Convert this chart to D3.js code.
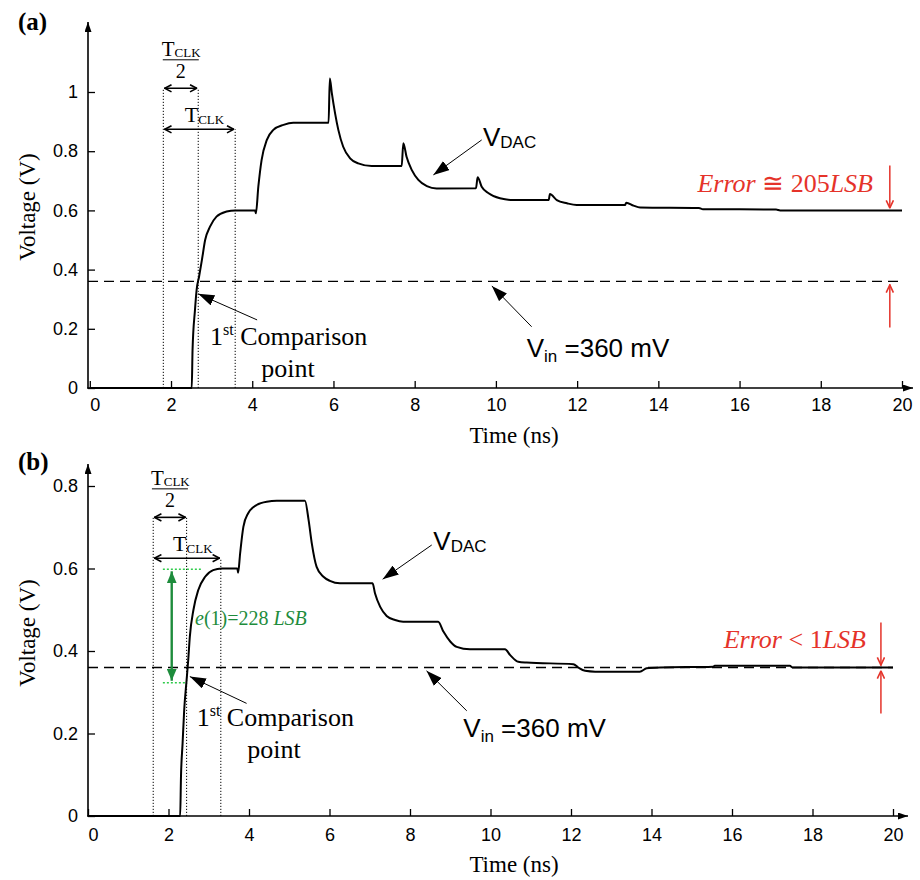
<!DOCTYPE html>
<html>
<head>
<meta charset="utf-8">
<script src="https://cdn.jsdelivr.net/npm/d3@7"></script>
<style>
  body { margin: 0; background: #fff; }
  svg { display: block; }
</style>
</head>
<body>
<div id="chart"></div>
<script>
/* CONSTANTS AND GLOBALS */
const width = 920,
  height = 880;

const SANS = "Liberation Sans, Arial, Helvetica, sans-serif",
  SERIF = "Liberation Serif, Times New Roman, serif";

const red = "#e5332a",
  green = "#1e8c3c",
  lightGreen = "#2fcc4a";

/* DATA */
const timeTicks = [0, 2, 4, 6, 8, 10, 12, 14, 16, 18, 20];
const voltTicksA = [0, 0.2, 0.4, 0.6, 0.8, 1];
const voltTicksB = [0, 0.2, 0.4, 0.6, 0.8];
const vIn = 0.36;

// (a) DAC output
const timeA = [0, 2.51, 2.53, 2.59, 2.63, 2.69, 2.76, 2.84, 2.96, 3.12, 3.37, 3.58, 4.07, 4.09, 4.15, 4.23,
  4.36, 4.52, 4.77, 5.01, 5.88, 5.91, 5.96, 6.04, 6.12, 6.24, 6.41, 6.61, 6.94, 7.68, 7.72, 7.8, 7.93, 8.09,
  8.3, 8.54, 9.51, 9.55, 9.65, 9.82, 10.1, 10.43, 11.3, 11.33, 11.5, 11.75, 11.99, 13.18, 13.21, 13.39,
  13.55, 15.0, 15.1, 16.9, 17.0, 20];
const voltA = [0, 0, 0.128, 0.264, 0.331, 0.376, 0.432, 0.5, 0.545, 0.579, 0.596, 0.6, 0.6, 0.59, 0.68, 0.77,
  0.838, 0.872, 0.889, 0.896, 0.896, 1.046, 0.996, 0.928, 0.872, 0.815, 0.776, 0.759, 0.75, 0.75, 0.827, 0.781, 0.736, 0.703,
  0.682, 0.674, 0.675, 0.712, 0.68, 0.658, 0.641, 0.635, 0.635, 0.655, 0.635, 0.624, 0.618, 0.618, 0.626, 0.616,
  0.61, 0.608, 0.604, 0.603, 0.6, 0.6];

// (b) DAC output
const timeB = [0, 2.29, 2.31, 2.35, 2.39, 2.45, 2.49, 2.53, 2.62, 2.74, 2.91, 3.11, 3.32, 3.71, 3.73, 3.78,
  3.86, 3.98, 4.19, 4.44, 4.69, 5.39, 5.48, 5.56, 5.68, 5.85, 6.01, 6.26, 7.07, 7.13, 7.26, 7.42, 7.63, 7.83,
  8.7, 8.83, 9.0, 9.16, 9.49, 10.36, 10.49, 10.69, 10.9, 12.06, 12.18, 12.35, 12.6, 13.71, 13.88, 14.21,
  15.53, 15.57, 17.44, 17.5, 20];
const voltB = [0, 0, 0.095, 0.176, 0.257, 0.33, 0.378, 0.435, 0.5, 0.548, 0.58, 0.596, 0.6, 0.6, 0.59, 0.637,
  0.701, 0.734, 0.754, 0.762, 0.764, 0.764, 0.718, 0.661, 0.604, 0.58, 0.57, 0.564, 0.564, 0.54, 0.507, 0.485, 0.475, 0.471,
  0.471, 0.447, 0.423, 0.41, 0.404, 0.404, 0.39, 0.374, 0.372, 0.368, 0.36, 0.352, 0.35, 0.35, 0.358, 0.36,
  0.362, 0.364, 0.364, 0.36, 0.36];

// clock edges (dotted guides) in ns
const clockA = [1.81, 2.67, 3.58];
const clockB = [1.62, 2.45, 3.30];
// first comparison error band in (b)
const errBand = [0.598, 0.323];

/* PANEL LAYOUT */
const panels = [
  { label: "(a)", time: timeA, volt: voltA, vTicks: voltTicksA, vTop: 1, clock: clockA,
    x0: 89.8, x20: 902, y0: 388, yTop: 92, axisX: 88, arrowTop: 22, arrowRight: 913,
    labelY: 30, xPad: 10, titleY: 443, vTitleY: 207,
    halfY: 1.0125, fullY: 0.874 },
  { label: "(b)", time: timeB, volt: voltB, vTicks: voltTicksB, vTop: 0.8, clock: clockB,
    x0: 88, x20: 893, y0: 816, yTop: 486, axisX: 88, arrowTop: 464, arrowRight: 908,
    labelY: 470, xPad: 12, titleY: 872, vTitleY: 633,
    halfY: 0.724, fullY: 0.625 }
];

let svg, defs;

/* MARKERS */
function makeMarker(id, d, fill, stroke, w, h) {
  defs.append("marker")
    .attr("id", id)
    .attr("viewBox", "0 0 10 10")
    .attr("refX", 10)
    .attr("refY", 5)
    .attr("markerWidth", w)
    .attr("markerHeight", h)
    .attr("markerUnits", "userSpaceOnUse")
    .attr("preserveAspectRatio", "none")
    .attr("orient", "auto-start-reverse")
    .append("path")
    .attr("d", d)
    .attr("fill", fill)
    .attr("stroke", stroke)
    .attr("stroke-width", stroke === "none" ? 0 : 1.6)
    .attr("vector-effect", "non-scaling-stroke");
}

function arrow(g, x1, y1, x2, y2, opts) {
  return g.append("line")
    .attr("x1", x1).attr("y1", y1).attr("x2", x2).attr("y2", y2)
    .attr("stroke", opts.color || "#000")
    .attr("stroke-width", opts.width || 1)
    .attr("marker-end", `url(#${opts.marker})`)
    .attr("marker-start", opts.both ? `url(#${opts.marker})` : null);
}

/* INIT */
svg = d3.select("#chart")
  .append("svg")
  .attr("width", width)
  .attr("height", height);

defs = svg.append("defs");
makeMarker("tri", "M0,0 L10,5 L0,10 Z", "#000", "none", 16, 11);
makeMarker("axTri", "M0,0 L10,5 L0,10 Z", "#000", "none", 10, 7);
makeMarker("chev", "M1,1 L9.5,5 L1,9", "none", "#000", 8, 9);
makeMarker("chevRed", "M1,1 L9.5,5 L1,9", "none", red, 9, 9);
makeMarker("triGreen", "M0,0 L10,5 L0,10 Z", green, "none", 12, 10);

panels.forEach((p, i) => drawPanel(p, i));

/* DRAW FUNCTION */
function drawPanel(p, i) {
  const g = svg.append("g").attr("class", "panel");

  // + SCALES
  const x = d3.scaleLinear().domain([0, 20]).range([p.x0, p.x20]);
  const y = d3.scaleLinear().domain([0, p.vTop]).range([p.y0, p.yTop]);

  // + AXES (ticks point inward)
  const xAxis = d3.axisBottom(x)
    .tickValues(timeTicks)
    .tickSizeInner(-7)
    .tickSizeOuter(0)
    .tickPadding(p.xPad)
    .tickFormat(d => d);

  const yAxis = d3.axisLeft(y)
    .tickValues(p.vTicks)
    .tickSizeInner(-7)
    .tickSizeOuter(0)
    .tickPadding(10)
    .tickFormat(d => d);

  g.append("g")
    .attr("class", "axis x-axis")
    .attr("transform", `translate(0,${p.y0})`)
    .call(xAxis)
    .attr("font-family", SANS)
    .attr("font-size", 18)
    .call(a => a.select(".domain").remove())
    .call(a => a.selectAll("line").attr("stroke-width", 1.3))
    .call(a => a.selectAll("text").attr("dx", d => (d === 0 ? 5 : 0)));

  g.append("g")
    .attr("class", "axis y-axis")
    .attr("transform", `translate(${p.axisX},0)`)
    .call(yAxis)
    .attr("font-family", SANS)
    .attr("font-size", 18)
    .call(a => a.select(".domain").remove())
    .call(a => a.selectAll("line").attr("stroke-width", 1.3));

  // axis lines with arrow heads
  arrow(g, p.axisX, p.y0 + 0.5, p.axisX, p.arrowTop, { marker: "axTri", width: 1.6 });
  arrow(g, p.axisX - 0.8, p.y0, p.arrowRight, p.y0, { marker: "axTri", width: 1.6 });

  // axis titles
  g.append("text")
    .attr("font-family", SERIF)
    .attr("x", 514)
    .attr("y", p.titleY)
    .attr("text-anchor", "middle")
    .attr("font-size", 23)
    .text("Time (ns)");

  g.append("text")
    .attr("font-family", SERIF)
    .attr("transform", `translate(35,${p.vTitleY}) rotate(-90)`)
    .attr("text-anchor", "middle")
    .attr("font-size", 23)
    .text("Voltage (V)");

  g.append("text")
    .attr("font-family", SERIF)
    .attr("x", 18)
    .attr("y", p.labelY)
    .attr("font-size", 25)
    .attr("font-weight", "bold")
    .text(p.label);

  // + DOTTED CLOCK GUIDES
  g.selectAll("line.clock")
    .data(p.clock)
    .join("line")
    .attr("class", "clock")
    .attr("x1", d => x(d)).attr("x2", d => x(d))
    .attr("y1", y(0))
    .attr("y2", (d, j) => (j < 2 ? y(p.halfY) : y(p.fullY)))
    .attr("stroke", "#000")
    .attr("stroke-width", 1)
    .attr("stroke-dasharray", "1.2,1.8");

  // Vin reference (dashed)
  g.append("line")
    .attr("x1", p.axisX).attr("x2", x(20))
    .attr("y1", y(vIn)).attr("y2", y(vIn))
    .attr("stroke", "#000")
    .attr("stroke-width", 1.3)
    .attr("stroke-dasharray", "10,6");

  // + LINE
  const rows = p.time.map((t, j) => ({ t, v: p.volt[j] }));
  const line = d3.line()
    .x(d => x(d.t))
    .y(d => y(d.v))
    .curve(d3.curveMonotoneX);

  g.append("path")
    .datum(rows)
    .attr("fill", "none")
    .attr("stroke", "#000")
    .attr("stroke-width", 2)
    .attr("stroke-linejoin", "round")
    .attr("d", line);

  // + CLOCK PERIOD ARROWS
  arrow(g, x(p.clock[0]) + 1, y(p.halfY), x(p.clock[1]) - 1, y(p.halfY), { marker: "chev", width: 1.6, both: true });
  arrow(g, x(p.clock[0]) + 1, y(p.fullY), x(p.clock[2]) - 1, y(p.fullY), { marker: "chev", width: 1.6, both: true });

  // T_CLK / 2 fraction
  const fracX = (x(p.clock[0]) + x(p.clock[1])) / 2;
  const fracTop = y(p.halfY) - 32;
  const frac = g.append("text").attr("font-family", SERIF).attr("x", fracX - 19).attr("y", fracTop);
  frac.append("tspan").attr("font-size", 21).text("T");
  frac.append("tspan").attr("font-size", 13).attr("dy", 1).text("CLK");
  g.append("line")
    .attr("x1", fracX - 18).attr("x2", fracX + 18)
    .attr("y1", fracTop + 3.5).attr("y2", fracTop + 3.5)
    .attr("stroke", "#000").attr("stroke-width", 1);
  g.append("text").attr("font-family", SERIF)
    .attr("x", fracX).attr("y", fracTop + 22)
    .attr("text-anchor", "middle")
    .attr("font-size", 20)
    .text("2");

  const tclk = g.append("text").attr("font-family", SERIF)
    .attr("x", x(p.clock[1]) - 13.5)
    .attr("y", y(p.fullY) - 7.5);
  tclk.append("tspan").attr("font-size", 22).text("T");
  tclk.append("tspan").attr("font-size", 13).attr("dy", 2).text("CLK");

  // + TEXT ANNOTATIONS
  const cmp = i === 0
    ? { tip: [2.67, 0.318], tail: [4.12, 0.23], tx: 210, ty: 345, px: 288, py: 377 }
    : { tip: [2.53, 0.338], tail: [3.94, 0.273], tx: 196.7, ty: 726, px: 274, py: 758 };
  arrow(g, x(cmp.tail[0]), y(cmp.tail[1]), x(cmp.tip[0]), y(cmp.tip[1]), { marker: "tri", width: 1 });
  const c1 = g.append("text").attr("font-family", SERIF).attr("x", cmp.tx).attr("y", cmp.ty).attr("font-size", 26);
  c1.append("tspan").text("1");
  c1.append("tspan").attr("font-size", 16).attr("dy", -10).text("st");
  c1.append("tspan").attr("dy", 10).text(" Comparison");
  g.append("text").attr("font-family", SERIF).attr("x", cmp.px).attr("y", cmp.py)
    .attr("text-anchor", "middle").attr("font-size", 26).text("point");

  const vin = i === 0
    ? { tip: [9.9, 0.345], tail: [10.88, 0.207], tx: 526.7, ty: 357 }
    : { tip: [8.41, 0.352], tail: [9.41, 0.255], tx: 463.3, ty: 737 };
  arrow(g, x(vin.tail[0]), y(vin.tail[1]), x(vin.tip[0]), y(vin.tip[1]), { marker: "tri", width: 1 });
  const vt = g.append("text").attr("font-family", SANS).attr("x", vin.tx).attr("y", vin.ty).attr("font-size", 26);
  vt.append("tspan").text("V");
  vt.append("tspan").attr("font-size", 17).attr("dy", 5).text("in");
  vt.append("tspan").attr("dy", -5).text(" =360 mV");

  const dac = i === 0
    ? { tip: [8.46, 0.72], tail: [9.65, 0.838], tx: 483, ty: 146 }
    : { tip: [7.32, 0.574], tail: [8.54, 0.657], tx: 433.3, ty: 550 };
  arrow(g, x(dac.tail[0]), y(dac.tail[1]), x(dac.tip[0]), y(dac.tip[1]), { marker: "tri", width: 1 });
  const dt = g.append("text").attr("font-family", SANS).attr("x", dac.tx).attr("y", dac.ty).attr("font-size", 26);
  dt.append("tspan").text("V");
  dt.append("tspan").attr("font-size", 17).attr("dy", 2).text("DAC");

  // + ERROR MARKERS (red)
  const finalV = p.volt[p.volt.length - 1];
  const ex = x(19.7);
  arrow(g, ex, y(finalV) - 45, ex, y(finalV) - 2, { marker: "chevRed", color: red, width: 1.5 });
  arrow(g, ex, y(vIn) + 46, ex, y(vIn) + 3, { marker: "chevRed", color: red, width: 1.5 });

  const et = g.append("text").attr("font-family", SERIF)
    .attr("x", i === 0 ? 873 : 866)
    .attr("y", i === 0 ? 192 : 648)
    .attr("text-anchor", "end")
    .attr("font-size", 26)
    .attr("fill", red);
  et.append("tspan").attr("font-style", "italic").text("Error");
  et.append("tspan").text(i === 0 ? " \u2245 205" : " < 1");
  et.append("tspan").attr("font-style", "italic").text("LSB");

  // + FIRST-COMPARISON ERROR (green, panel b only)
  if (i === 1) {
    g.append("line")
      .attr("x1", x(1.86)).attr("x2", x(2.85))
      .attr("y1", y(errBand[0])).attr("y2", y(errBand[0]))
      .attr("stroke", lightGreen).attr("stroke-width", 1.5).attr("stroke-dasharray", "2,2");
    g.append("line")
      .attr("x1", x(1.86)).attr("x2", x(2.45))
      .attr("y1", y(errBand[1])).attr("y2", y(errBand[1]))
      .attr("stroke", lightGreen).attr("stroke-width", 1.5).attr("stroke-dasharray", "2,2");
    arrow(g, x(2.08), y(errBand[0]) + 2, x(2.08), y(errBand[1]) - 2, { marker: "triGreen", color: green, width: 2.4, both: true });

    const gt = g.append("text").attr("font-family", SERIF).attr("x", 195).attr("y", 625)
      .attr("font-size", 20).attr("fill", green);
    gt.append("tspan").attr("font-style", "italic").text("e");
    gt.append("tspan").text("(1)=228 ");
    gt.append("tspan").attr("font-style", "italic").text("LSB");
  }
}
</script>
</body>
</html>
